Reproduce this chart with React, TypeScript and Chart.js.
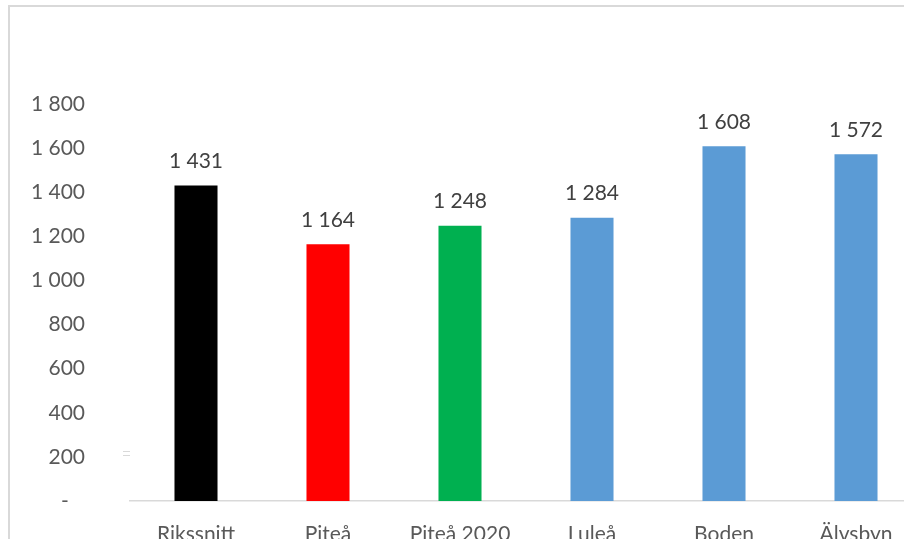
import React, { useEffect, useRef } from "react";
import { Chart, registerables } from "chart.js";

Chart.register(...registerables);

const categories = ["Rikssnitt", "Piteå", "Piteå 2020", "Luleå", "Boden", "Älvsbyn"];
const values = [1431, 1164, 1248, 1284, 1608, 1572];
const barColors = ["#000000", "#ff0000", "#00b050", "#5b9bd5", "#5b9bd5", "#5b9bd5"];
const yTicks = [0, 200, 400, 600, 800, 1000, 1200, 1400, 1600, 1800];

const FONT = "Lato, 'Open Sans', sans-serif";

function fmt(v: number): string {
  if (v === 0) return "-   ";
  const s = Math.round(v).toString();
  return s.replace(/\B(?=(\d{3})+(?!\d))/g, " ");
}

const decorPlugin = {
  id: "decor",
  beforeDraw(chart: any) {
    const ctx = chart.ctx;
    ctx.save();
    ctx.strokeStyle = "#d9d9d9";
    ctx.lineWidth = 2;
    ctx.beginPath();
    ctx.moveTo(9, chart.height);
    ctx.lineTo(9, 6);
    ctx.lineTo(chart.width, 6);
    ctx.stroke();
    ctx.lineWidth = 1;
    ctx.beginPath();
    ctx.moveTo(123, 451.5);
    ctx.lineTo(130, 451.5);
    ctx.moveTo(123, 455.5);
    ctx.lineTo(130, 455.5);
    ctx.stroke();
    ctx.restore();
  },
  afterDatasetsDraw(chart: any) {
    const ctx = chart.ctx;
    const meta = chart.getDatasetMeta(0);
    ctx.save();
    ctx.font = `21px ${FONT}`;
    ctx.fillStyle = "#404040";
    ctx.textAlign = "center";
    ctx.textBaseline = "bottom";
    meta.data.forEach((bar: any, i: number) => {
      ctx.fillText(fmt(values[i]), bar.x, bar.y - 14);
    });
    ctx.restore();
  },
};

export default function App() {
  const ref = useRef<HTMLCanvasElement | null>(null);
  useEffect(() => {
    if (!ref.current) return;
    const chart = new Chart(ref.current, {
      type: "bar",
      data: {
        labels: categories,
        datasets: [
          {
            data: values,
            backgroundColor: barColors,
            borderWidth: 0,
            barPercentage: 0.326,
            categoryPercentage: 1,
          },
        ],
      },
      options: {
        animation: false,
        responsive: false,
        maintainAspectRatio: false,
        layout: { padding: { top: 104, left: 0, right: 0, bottom: 0 } },
        plugins: { legend: { display: false }, tooltip: { enabled: false } },
        scales: {
          x: {
            grid: { display: false, drawTicks: false },
            border: { display: true, color: "#d9d9d9", width: 1.5 },
            ticks: { color: "#595959", font: { family: FONT, size: 21 }, padding: 21 },
            afterFit: (s: any) => {
              s.height = 59;
            },
          },
          y: {
            min: 0,
            max: 1800,
            afterBuildTicks: (s: any) => {
              s.ticks = yTicks.map((v) => ({ value: v }));
            },
            grid: { display: false, drawTicks: false },
            border: { display: false },
            ticks: {
              color: "#595959",
              font: { family: FONT, size: 21 },
              padding: 45,
              callback: (v: any) => fmt(Number(v)),
            },
            afterFit: (s: any) => {
              s.width = 130;
            },
          },
        },
      },
      plugins: [decorPlugin],
    });
    return () => chart.destroy();
  }, []);
  return (
    <div
      style={{
        position: "fixed",
        left: 0,
        top: 0,
        width: 904,
        height: 539,
        overflow: "hidden",
        background: "#ffffff",
      }}
    >
      <canvas ref={ref} width={922} height={560} style={{ display: "block", width: 922, height: 560 }} />
    </div>
  );
}
